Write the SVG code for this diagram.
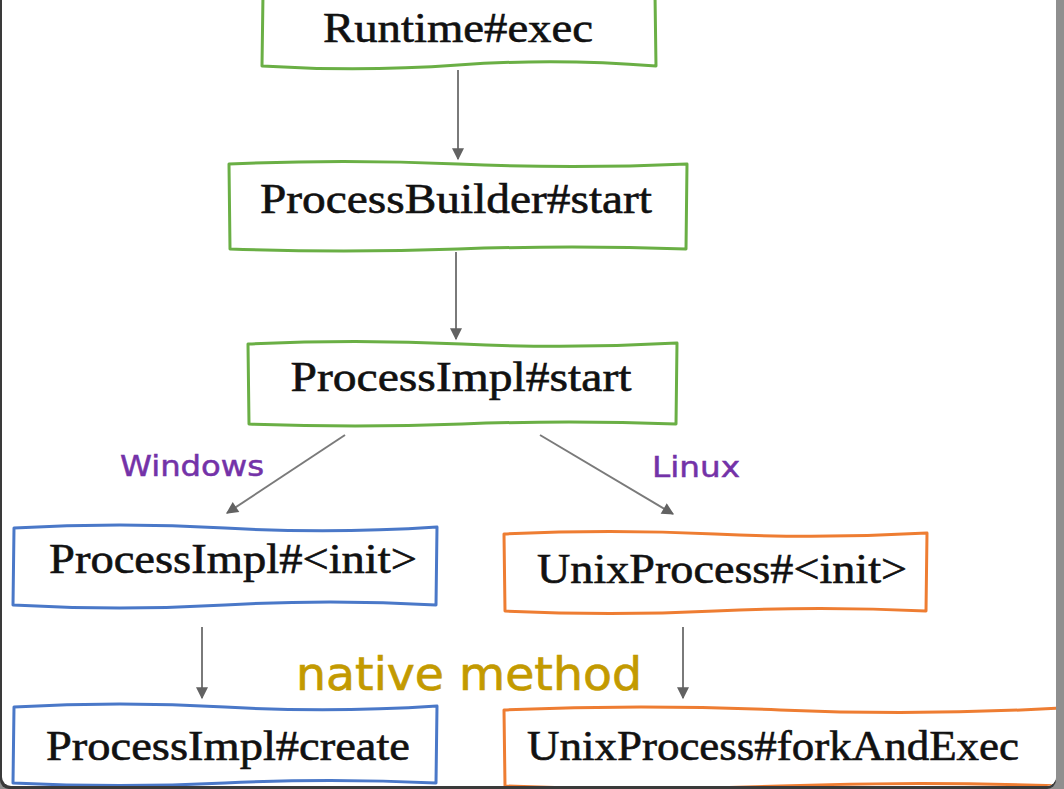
<svg xmlns="http://www.w3.org/2000/svg" width="1064" height="789" viewBox="0 0 1064 789">
<style>
.box{fill:#ffffff;stroke-width:3;stroke-linejoin:round}
.g{stroke:#6aaf45}
.b{stroke:#4a78c8}
.o{stroke:#ee7d32}
.t{font-family:"Liberation Serif","Times New Roman",serif;font-size:42px;fill:#111;stroke:#111;stroke-width:0.6;text-anchor:middle}
.lbl{font-family:"DejaVu Sans","Noto Sans",sans-serif;fill:#7432a8;stroke:#7432a8;stroke-width:0.5;font-size:28px}
.native{font-family:"DejaVu Sans","Noto Sans",sans-serif;fill:#c39a00;stroke:#c39a00;stroke-width:0.7;font-size:47px}
.edge{stroke:#7a7a7a;stroke-width:2;fill:none;marker-end:url(#ah)}
</style>
<defs>
<marker id="ah" viewBox="0 0 10 10" refX="9" refY="5" markerWidth="13" markerHeight="12" markerUnits="userSpaceOnUse" orient="auto">
<path d="M0,0 L10,5 L0,10 Z" fill="#626262"/>
</marker>
<clipPath id="card"><rect x="2" y="-20" width="1054" height="806" rx="9"/></clipPath>
</defs>
<rect x="0" y="0" width="1064" height="789" fill="#8f8f8f"/>
<rect x="0" y="-20" width="1056" height="809" rx="9" fill="#3a3a3a"/>
<rect x="2" y="-20" width="1054" height="806" rx="9" fill="#ffffff"/>
<g clip-path="url(#card)">
<g id="connectors">
<line class="edge" x1="458" y1="70" x2="458" y2="159"/>
<line class="edge" x1="456" y1="252" x2="456" y2="339"/>
<line class="edge" x1="345" y1="435" x2="227" y2="513"/>
<line class="edge" x1="540" y1="435" x2="673" y2="514"/>
<line class="edge" x1="202" y1="627" x2="202" y2="698"/>
<line class="edge" x1="683" y1="627" x2="683" y2="698"/>
</g>
<g id="n-runtime">
<path class="box g" d="M263,-6 L262,66 Q360,72 458,65 T656,66 L655,-6 Z"/>
<text class="t" x="458" y="42" textLength="270" lengthAdjust="spacingAndGlyphs">Runtime#exec</text>
</g>
<g id="n-builder">
<path class="box g" d="M229,164 Q343,159 458,164 T687,164 L686,249 Q572,245 458,249 T230,249 Z"/>
<text class="t" x="456" y="213" font-size="44" textLength="392" lengthAdjust="spacingAndGlyphs">ProcessBuilder#start</text>
</g>
<g id="n-impl-start">
<path class="box g" d="M248,344 Q355,339 462,344 T677,343 L676,424 Q569,420 462,424 T249,424 Z"/>
<text class="t" x="461" y="391" textLength="341" lengthAdjust="spacingAndGlyphs">ProcessImpl#start</text>
</g>
<g id="l-windows"><text class="lbl" x="120" y="476" textLength="144" lengthAdjust="spacingAndGlyphs">Windows</text></g>
<g id="l-linux"><text class="lbl" x="652" y="477" textLength="88" lengthAdjust="spacingAndGlyphs">Linux</text></g>
<g id="n-impl-init">
<path class="box b" d="M14,528 Q120,522 225,528 T437,527 L436,605 Q330,599 225,605 T13,605 Z"/>
<text class="t" x="233" y="573" textLength="368" lengthAdjust="spacingAndGlyphs">ProcessImpl#&lt;init&gt;</text>
</g>
<g id="n-unix-init">
<path class="box o" d="M504,534 Q610,529 715,534 T927,533 L926,611 Q820,606 715,611 T505,611 Z"/>
<text class="t" x="722" y="583" textLength="370" lengthAdjust="spacingAndGlyphs">UnixProcess#&lt;init&gt;</text>
</g>
<g id="l-native"><text class="native" x="296" y="690" textLength="346" lengthAdjust="spacingAndGlyphs">native method</text></g>
<g id="n-impl-create">
<path class="box b" d="M14,707 Q120,701 225,707 T437,706 L436,783 Q330,778 225,783 T13,783 Z"/>
<text class="t" x="228" y="760" textLength="364" lengthAdjust="spacingAndGlyphs">ProcessImpl#create</text>
</g>
<g id="n-unix-fork">
<path class="box o" d="M504,710 Q640,704 780,710 T1060,708 L1060,786 Q920,781 780,786 T505,786 Z"/>
<text class="t" x="773" y="760" textLength="492" lengthAdjust="spacingAndGlyphs">UnixProcess#forkAndExec</text>
</g>
</g>
</svg>
